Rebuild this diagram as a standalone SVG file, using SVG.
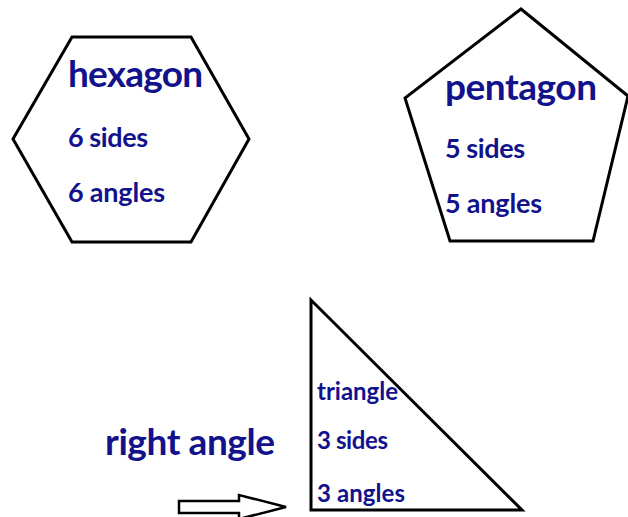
<svg xmlns="http://www.w3.org/2000/svg" width="628" height="517" viewBox="0 0 628 517">
<style>
.shape{fill:#fff;stroke:#000;stroke-width:3;stroke-linejoin:miter}
.t{font-family:Lato,"Open Sans","Liberation Sans",sans-serif;font-weight:bold;fill:#12128c}
.big{font-size:37px}
.mid{font-size:27px}
.sm{font-size:24px}
</style>
<rect width="628" height="517" fill="#fff"/>
<g id="hexagon">
<polygon class="shape" points="72,37 191,37 249,139 191,242 72,242 13,139"/>
<text class="t big" x="68" y="87" textLength="135">hexagon</text>
<text class="t mid" x="68" y="147" textLength="80">6 sides</text>
<text class="t mid" x="68" y="202" textLength="97">6 angles</text>
</g>
<g id="pentagon">
<polygon class="shape" points="521,9 628,96 593,241 450,241 405,98"/>
<text class="t big" x="445" y="100" textLength="152">pentagon</text>
<text class="t mid" x="445" y="158" textLength="80">5 sides</text>
<text class="t mid" x="445" y="213" textLength="97">5 angles</text>
</g>
<g id="triangle">
<polygon class="shape" points="311,300 311,510 522,510"/>
<text class="t sm" x="317" y="400" textLength="81">triangle</text>
<text class="t sm" x="317" y="449" textLength="71">3 sides</text>
<text class="t sm" x="317" y="502" textLength="88">3 angles</text>
</g>
<g id="right-angle">
<text class="t big" x="105" y="455" textLength="170">right angle</text>
</g>
<g id="connectors">
<polygon points="179,501 239,501 239,495 286,507 239,519 239,513 179,513" fill="#fff" stroke="#000" stroke-width="2.5"/>
</g>
</svg>
